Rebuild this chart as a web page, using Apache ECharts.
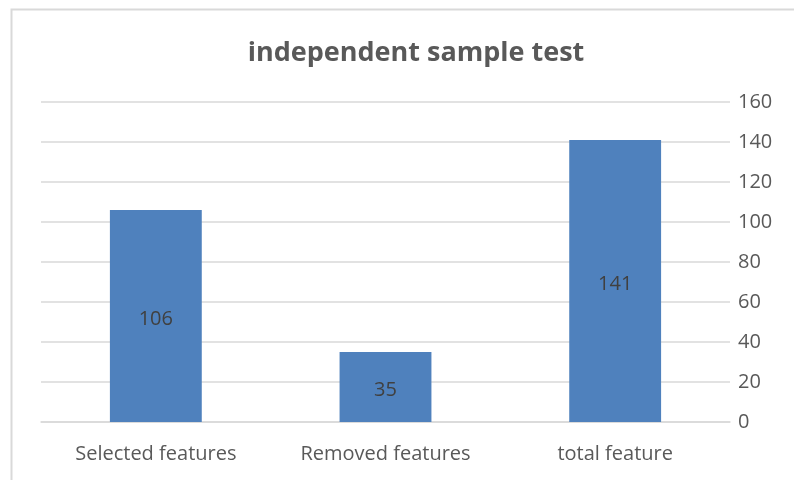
<!DOCTYPE html>
<html>
<head>
<meta charset="utf-8">
<script src="https://cdn.jsdelivr.net/npm/echarts@6/dist/echarts.min.js"></script>
<style>
  html, body { margin: 0; padding: 0; background: #fff; }
  #chart { width: 794px; height: 480px; }
</style>
</head>
<body>
<div id="chart"></div>
<script>
const categories = ['Selected features', 'Removed features', 'total feature']
const values = [106, 35, 141]
const tickMin = 0
const tickMax = 160
const tickStep = 20

const chart = echarts.init(document.getElementById('chart'))
chart.setOption({
  animation: false,
  textStyle: { fontFamily: 'Open Sans' },
  title: {
    text: 'independent sample test',
    left: 411,
    top: 35,
    textAlign: 'center',
    textStyle: { fontSize: 27, fontWeight: 'bold', color: '#595959', fontFamily: 'Open Sans' }
  },
  graphic: [{
    type: 'rect',
    shape: { x: 11.5, y: 9.5, width: 800, height: 500 },
    style: { fill: 'none', stroke: '#d9d9d9', lineWidth: 2 },
    silent: true
  }],
  grid: {
    left: 41,
    right: 64,
    top: 102,
    bottom: 58
  },
  xAxis: {
    type: 'category',
    data: categories,
    axisLine: { show: true, lineStyle: { color: '#d9d9d9', width: 1.5 } },
    axisTick: { show: false },
    axisLabel: { color: '#595959', fontSize: 20, margin: 22, interval: 0, hideOverlap: false }
  },
  yAxis: {
    type: 'value',
    position: 'right',
    min: tickMin,
    max: tickMax,
    interval: tickStep,
    axisLine: { show: false },
    axisTick: { show: false },
    axisLabel: { color: '#595959', fontSize: 20, margin: 8, align: 'left' },
    splitLine: { lineStyle: { color: '#d9d9d9', width: 1.5 } }
  },
  series: [{
    type: 'bar',
    data: values,
    barWidth: '40%',
    itemStyle: { color: '#4f81bd' },
    label: {
      show: true,
      position: 'inside',
      offset: [0, 3],
      color: '#404040',
      fontSize: 20
    }
  }]
})
</script>
</body>
</html>
